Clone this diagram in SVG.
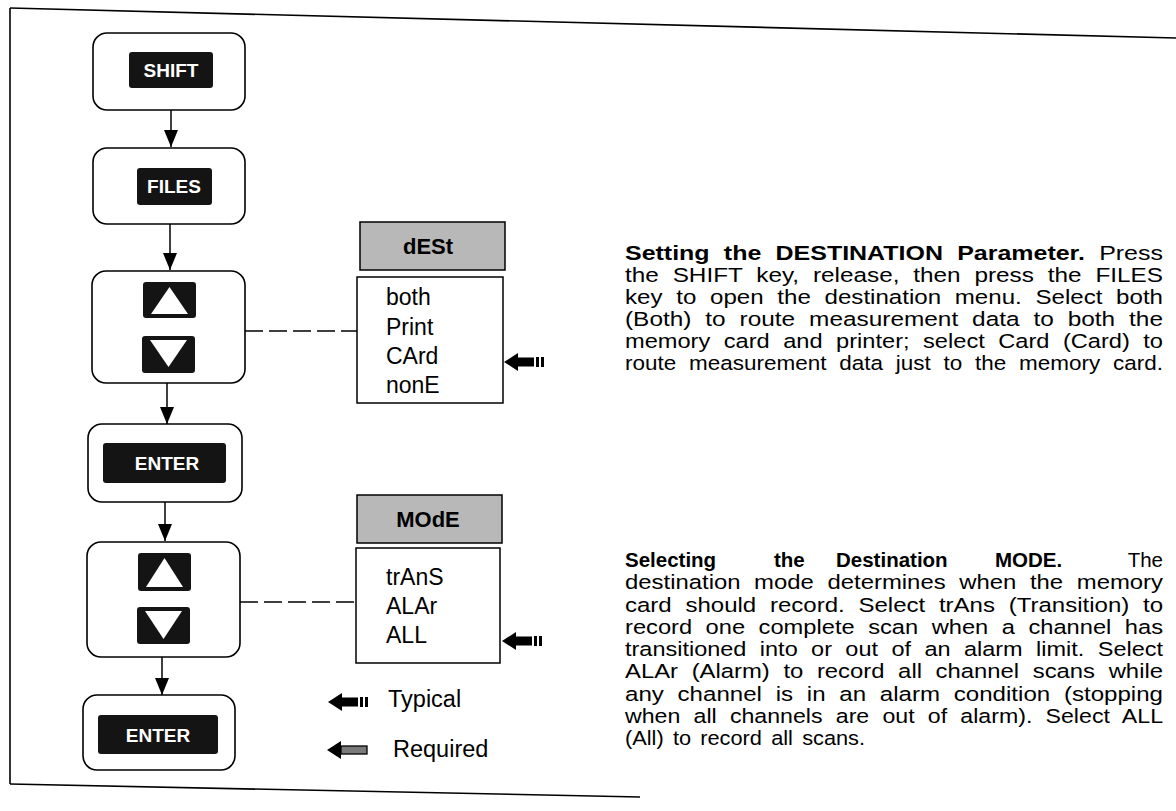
<svg xmlns="http://www.w3.org/2000/svg" width="1176" height="811" viewBox="0 0 1176 811">
<style>
.box{fill:#fff;stroke:#000;stroke-width:1.6}
.key{fill:#141414}
.ktxt{font-family:"Liberation Sans",Arial,sans-serif;font-weight:bold;font-size:19px;fill:#fff;text-anchor:middle}
.tri{fill:#fff}
.conn{stroke:#000;stroke-width:1.5;fill:none}
.dash{stroke:#000;stroke-width:1.5;fill:none;stroke-dasharray:18 6}
.hdr{fill:#b8b8b8;stroke:#000;stroke-width:1.5}
.htxt{font-family:"Liberation Sans",Arial,sans-serif;font-weight:bold;font-size:22px;fill:#000;text-anchor:middle}
.list{fill:#fff;stroke:#000;stroke-width:1.5}
.item{font-family:"Liberation Sans",Arial,sans-serif;font-size:23px;fill:#000}
.para{font-family:"Liberation Sans",Arial,sans-serif;font-size:20.5px;fill:#000;word-spacing:6px}
.last{word-spacing:3px}
.leg{font-family:"Liberation Sans",Arial,sans-serif;font-size:23.5px;fill:#000}
.b{font-weight:bold}
.frame{stroke:#000;stroke-width:1.6;fill:none}
</style>
<defs>
<marker id="ah" viewBox="0 -7 17 14" refX="17" refY="0" markerWidth="17" markerHeight="14" markerUnits="userSpaceOnUse" orient="auto">
<path d="M0,-7 L17,0 L0,7 Z" fill="#000"/>
</marker>
<g id="typical">
<polygon points="0,0 14,-9 14,9" fill="#000"/>
<rect x="14" y="-4.5" width="16" height="9" fill="#000"/>
<rect x="32" y="-5" width="3" height="10" fill="#000"/>
<rect x="37" y="-5" width="3" height="10" fill="#000"/>
</g>
<g id="required">
<polygon points="0,0 14,-9 14,9" fill="#000"/>
<rect x="14" y="-4" width="26" height="8" fill="#7a7a7a" stroke="#000" stroke-width="1.3"/>
</g>
</defs>

<g id="frame">
<line class="frame" x1="10" y1="8" x2="1176" y2="38"/>
<line class="frame" x1="10" y1="8" x2="10" y2="784"/>
<line class="frame" x1="10" y1="784" x2="640" y2="797"/>
</g>

<g id="connectors">
<line class="conn" x1="171" y1="110" x2="171" y2="147" marker-end="url(#ah)"/>
<line class="conn" x1="170" y1="224" x2="170" y2="270" marker-end="url(#ah)"/>
<line class="conn" x1="167" y1="383" x2="167" y2="424" marker-end="url(#ah)"/>
<line class="conn" x1="165" y1="502" x2="165" y2="541" marker-end="url(#ah)"/>
<line class="conn" x1="162" y1="657" x2="162" y2="695" marker-end="url(#ah)"/>
<line class="dash" x1="245" y1="331" x2="357" y2="331"/>
<line class="dash" x1="240" y1="602" x2="356" y2="602"/>
</g>

<g id="shift">
<rect class="box" x="93" y="33" width="152" height="77" rx="14"/>
<rect class="key" x="129" y="52" width="84" height="36" rx="3"/>
<text class="ktxt" x="171" y="77">SHIFT</text>
</g>

<g id="files">
<rect class="box" x="93" y="148" width="152" height="76" rx="14"/>
<rect class="key" x="137" y="168" width="75" height="37" rx="3"/>
<text class="ktxt" x="174" y="193">FILES</text>
</g>

<g id="arrows1">
<rect class="box" x="92" y="271" width="153" height="112" rx="14"/>
<rect class="key" x="143" y="282" width="53" height="36" rx="3"/>
<polygon class="tri" points="151,314 188,314 169.5,287"/>
<rect class="key" x="142" y="336" width="53" height="37" rx="3"/>
<polygon class="tri" points="150,340 187,340 168.5,367"/>
</g>

<g id="enter1">
<rect class="box" x="88" y="424" width="154" height="78" rx="14"/>
<rect class="key" x="103" y="443" width="123" height="40" rx="3"/>
<text class="ktxt" x="167" y="470">ENTER</text>
</g>

<g id="arrows2">
<rect class="box" x="87" y="542" width="153" height="115" rx="14"/>
<rect class="key" x="138" y="553" width="53" height="38" rx="3"/>
<polygon class="tri" points="146,587 183,587 164.5,558"/>
<rect class="key" x="137" y="607" width="53" height="37" rx="3"/>
<polygon class="tri" points="145,611 182,611 163.5,639"/>
</g>

<g id="enter2">
<rect class="box" x="83" y="695" width="152" height="75" rx="14"/>
<rect class="key" x="98" y="715" width="120" height="39" rx="3"/>
<text class="ktxt" x="158" y="742">ENTER</text>
</g>

<g id="dest-menu">
<rect class="hdr" x="360" y="222" width="145" height="48"/>
<text class="htxt" x="428" y="254">dESt</text>
<rect class="list" x="357" y="277" width="146" height="126"/>
<text class="item" x="386" y="305">both</text>
<text class="item" x="386" y="335">Print</text>
<text class="item" x="386" y="364">CArd</text>
<text class="item" x="386" y="393">nonE</text>
<use href="#typical" x="504" y="362"/>
</g>

<g id="mode-menu">
<rect class="hdr" x="357" y="495" width="145" height="48"/>
<text class="htxt" x="428" y="527">MOdE</text>
<rect class="list" x="356" y="548" width="144" height="115"/>
<text class="item" x="386" y="585">trAnS</text>
<text class="item" x="386" y="614">ALAr</text>
<text class="item" x="386" y="643">ALL</text>
<use href="#typical" x="502" y="641"/>
</g>

<g id="legend">
<use href="#typical" x="328" y="702"/>
<text class="leg" x="388" y="707">Typical</text>
<use href="#required" x="327" y="750"/>
<text class="leg" x="393" y="757">Required</text>
</g>

<g id="para1">
<text class="para" x="625" y="260" textLength="538" lengthAdjust="spacingAndGlyphs"><tspan class="b">Setting the DESTINATION Parameter.</tspan>  Press</text>
<text class="para" x="625" y="282" textLength="538" lengthAdjust="spacingAndGlyphs">the SHIFT key, release, then press the FILES</text>
<text class="para" x="625" y="304" textLength="538" lengthAdjust="spacingAndGlyphs">key to open the destination menu.  Select both</text>
<text class="para" x="625" y="326" textLength="538" lengthAdjust="spacingAndGlyphs">(Both) to route measurement data to both the</text>
<text class="para" x="625" y="348" textLength="538" lengthAdjust="spacingAndGlyphs">memory card and printer; select Card (Card)  to</text>
<text class="para" x="625" y="370" textLength="538" lengthAdjust="spacingAndGlyphs">route measurement data just to the memory card.</text>
</g>

<g id="para2">
<text class="para b" y="567"><tspan x="625">Selecting</tspan><tspan x="774">the</tspan><tspan x="836">Destination</tspan><tspan x="995">MODE.</tspan></text>
<text class="para" x="1163" y="567" text-anchor="end">The</text>
<text class="para" x="625" y="589" textLength="538" lengthAdjust="spacingAndGlyphs">destination mode determines when the memory</text>
<text class="para" x="625" y="611.5" textLength="538" lengthAdjust="spacingAndGlyphs">card should record.  Select trAns (Transition) to</text>
<text class="para" x="625" y="634" textLength="538" lengthAdjust="spacingAndGlyphs">record one complete scan when a channel has</text>
<text class="para" x="625" y="656" textLength="538" lengthAdjust="spacingAndGlyphs">transitioned into or out of an alarm limit.  Select</text>
<text class="para" x="625" y="678" textLength="538" lengthAdjust="spacingAndGlyphs">ALAr (Alarm) to record all channel scans while</text>
<text class="para" x="625" y="700.5" textLength="538" lengthAdjust="spacingAndGlyphs">any channel is in an alarm condition (stopping</text>
<text class="para" x="625" y="723" textLength="538" lengthAdjust="spacingAndGlyphs">when all channels are out of alarm).  Select ALL</text>
<text class="para last" x="625" y="745" textLength="240" lengthAdjust="spacingAndGlyphs">(All) to record all scans.</text>
</g>
</svg>
